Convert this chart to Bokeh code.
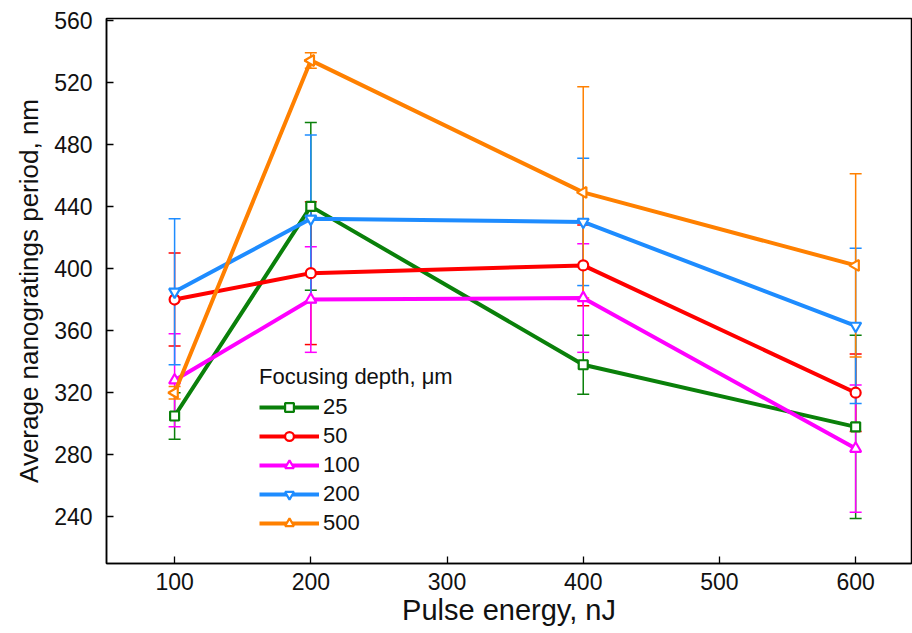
import math
from bokeh.plotting import figure
from bokeh.models import Whisker, ColumnDataSource, Legend, LegendItem, TeeHead, Range1d
from bokeh.embed import file_html
from bokeh.resources import INLINE

# Pulse energies (nJ) and average nanograting period (nm) with error bars
energy = [100, 200, 400, 600]
depths = ["25", "50", "100", "200", "500"]

period_25 = [305, 440, 338, 298]
err_25 = [15, 54, 19, 59]
period_50 = [380, 397, 402, 320]
err_50 = [30, 46, 26, 25]
period_100 = [328, 380, 381, 284]
err_100 = [30, 34, 35, 41]
period_200 = [385, 432, 430, 363]
err_200 = [47, 54, 41, 50]
period_500 = [320, 534, 449, 402]
err_500 = [4, 5, 68, 59]

periods = [period_25, period_50, period_100, period_200, period_500]
errors = [err_25, err_50, err_100, err_200, err_500]
colors = ["#0a800a", "#ff0000", "#ff00ff", "#1e8cff", "#ff8000"]
markers = ["square", "circle", "triangle", "inverted_triangle", "triangle"]
angles = [0, 0, 0, 0, math.pi / 2]
sizes = [9, 10, 11, 11, 11]

FONT = "Liberation Sans"

p = figure(width=912, height=633, output_backend="svg", toolbar_location=None,
           x_range=Range1d(50, 641), y_range=Range1d(210, 561),
           min_border_left=106, min_border_right=1, min_border_top=18, min_border_bottom=70)
p.grid.visible = False
p.outline_line_color = "black"
p.outline_line_width = 1.5
p.background_fill_color = "white"

for ax in (p.xaxis[0], p.yaxis[0]):
    ax.axis_line_width = 1.5
    ax.major_tick_in = 7
    ax.major_tick_out = 0
    ax.minor_tick_in = 4
    ax.minor_tick_out = 0
    ax.major_tick_line_width = 1.3
    ax.minor_tick_line_width = 1.3
    ax.major_label_text_font = FONT
    ax.major_label_text_font_size = "23px"
    ax.major_label_text_color = "#111111"
    ax.axis_label_text_font = FONT
    ax.axis_label_text_font_style = "normal"
    ax.axis_label_text_color = "#111111"

p.xaxis.ticker = [100, 200, 300, 400, 500, 600]
p.xaxis[0].ticker.num_minor_ticks = 4
p.yaxis.ticker = list(range(240, 561, 40))
p.yaxis[0].ticker.num_minor_ticks = 2
p.xaxis.axis_label = "Pulse energy, nJ"
p.xaxis.axis_label_text_font_size = "29px"
p.xaxis.major_label_standoff = 9
p.xaxis.axis_label_standoff = 1
p.yaxis.axis_label = "Average nanogratings period, nm"
p.yaxis.axis_label_text_font_size = "26px"
p.yaxis.major_label_standoff = 14
p.yaxis.axis_label_standoff = 7

items = []
for name, ys, es, c, m, a, s in zip(depths, periods, errors, colors, markers, angles, sizes):
    src = ColumnDataSource(dict(x=energy, y=ys,
                                lo=[v - e for v, e in zip(ys, es)],
                                hi=[v + e for v, e in zip(ys, es)]))
    w = Whisker(source=src, base="x", upper="hi", lower="lo", dimension="height",
                line_color=c, line_width=1.5,
                upper_head=TeeHead(size=12, line_color=c, line_width=1.5),
                lower_head=TeeHead(size=12, line_color=c, line_width=1.5))
    p.add_layout(w)
    ln = p.line("x", "y", source=src, line_color=c, line_width=4)
    mk = p.scatter("x", "y", source=src, marker=m, angle=a, size=s,
                   fill_color="white", line_color=c, line_width=2.2)
    items.append(LegendItem(label=name, renderers=[ln, mk]))

legend = Legend(items=items, location=(149, 23), title="Focusing depth, μm",
                title_text_font=FONT, title_text_font_size="22px", title_text_color="#111111",
                title_text_font_style="normal",
                label_text_font=FONT, label_text_font_size="22px", label_text_color="#111111",
                glyph_width=60, glyph_height=22, spacing=3, padding=4,
                label_standoff=4, title_standoff=4,
                background_fill_alpha=0, border_line_alpha=0)
p.add_layout(legend, "center")

open("out.html", "w").write(file_html(p, INLINE))
